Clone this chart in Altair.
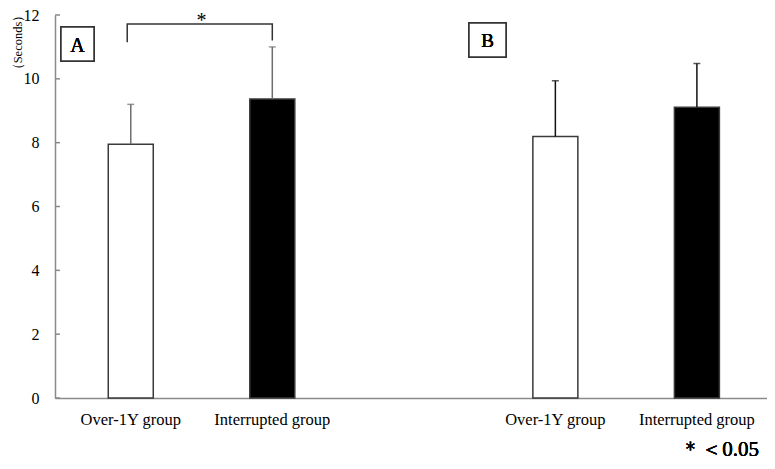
import altair as alt
import pandas as pd

# ---- data ----
groups = ["Over-1Y group", "Interrupted group", "Over-1Y group", "Interrupted group"]
panels = ["A", "A", "B", "B"]
slots = [0.5, 1.5, 3.5, 4.5]
means = [7.95, 9.37, 8.19, 9.11]
sds = [1.25, 1.63, 1.75, 1.37]
fills = ["#ffffff", "#000000", "#ffffff", "#000000"]
err_colors = ["#6e6e6e", "#6e6e6e", "#111111", "#111111"]
y_ticks = [0, 2, 4, 6, 8, 10, 12]
panel_labels = ["A", "B"]
sig_text = "*"
note_text = "＊＜0.05"
y_title = "（Seconds）"

df = pd.DataFrame({"group": groups, "panel": panels, "slot": slots,
                   "mean": means, "sd": sds, "fill": fills, "ecol": err_colors})
df["top"] = df["mean"] + df["sd"]

# significance bracket between first two bars (panel A)
bx_left = slots[0] - 0.025
bx_right = slots[1]
b_top = 11.72
bracket = pd.DataFrame({"x": [bx_left, bx_left, bx_right, bx_right],
                        "y": [11.15, b_top, b_top, 11.2],
                        "o": [0, 1, 2, 3]})
sig = pd.DataFrame({"x": [(slots[0] + slots[1]) / 2], "y": [b_top], "t": [sig_text]})
ticks_df = pd.DataFrame({"v": y_ticks})

FONT = "Liberation Serif"
W, H = 712, 383
xs = alt.Scale(domain=[0, 4.96], nice=False, zero=False)
ys = alt.Scale(domain=[0, 12], nice=False)

base = alt.Chart(df)

bars = base.mark_bar(size=45, stroke="#3a3a3a", strokeWidth=1.5).encode(
    x=alt.X("slot:Q", scale=xs,
            axis=alt.Axis(labels=False, ticks=False, title=None, grid=False,
                          domainColor="#8a8a8a", domainWidth=1.5)),
    y=alt.Y("mean:Q", scale=ys,
            axis=alt.Axis(values=y_ticks, ticks=False, grid=False, labelPadding=16,
                          labelFont=FONT, labelFontSize=16, labelColor="#000",
                          labelFontWeight="normal",
                          domainColor="#8a8a8a", domainWidth=1.5,
                          title=y_title, titleAngle=270, titleX=-38, titleY=27,
                          titleAlign="center", titleBaseline="middle",
                          titleFont=FONT, titleFontSize=12.5, titleFontWeight="normal",
                          titleColor="#000")),
    fill=alt.Fill("fill:N", scale=None),
)

err = base.mark_rule(strokeWidth=1.5).encode(
    x=alt.X("slot:Q", scale=xs), y=alt.Y("mean:Q", scale=ys), y2="top:Q",
    color=alt.Color("ecol:N", scale=None))
caps = base.mark_tick(orient="horizontal", size=7, thickness=1.5).encode(
    x=alt.X("slot:Q", scale=xs), y=alt.Y("top:Q", scale=ys),
    color=alt.Color("ecol:N", scale=None))

cat_labels = base.mark_text(font=FONT, fontSize=16.5, fontWeight="normal",
                            baseline="alphabetic", align="center", yOffset=27,
                            color="#000").encode(
    x=alt.X("slot:Q", scale=xs), y=alt.datum(0, scale=ys), text="group:N")

yticks = alt.Chart(ticks_df).mark_rule(color="#8a8a8a", strokeWidth=1.5).encode(
    x=alt.value(0), x2=alt.value(5), y=alt.Y("v:Q", scale=ys))

br = alt.Chart(bracket).mark_line(color="#333", strokeWidth=1.5).encode(
    x=alt.X("x:Q", scale=xs), y=alt.Y("y:Q", scale=ys), order="o:Q")
star = alt.Chart(sig).mark_text(font=FONT, fontSize=20, fontWeight="normal",
                                baseline="alphabetic", dy=3, color="#000").encode(
    x=alt.X("x:Q", scale=xs), y=alt.Y("y:Q", scale=ys), text="t:N")

# panel boxes
boxA = alt.Chart(df).mark_rect(fill="white", stroke="#333", strokeWidth=1.5).encode(
    x=alt.value(6), x2=alt.value(39), y=alt.value(12), y2=alt.value(46))
boxB = alt.Chart(df).mark_rect(fill="white", stroke="#333", strokeWidth=1.5).encode(
    x=alt.value(414), x2=alt.value(451), y=alt.value(8), y2=alt.value(42))
txtA = alt.Chart(df).mark_text(font=FONT, fontSize=20, fontWeight="normal",
                               color="#000", baseline="alphabetic").encode(
    x=alt.value(22.5), y=alt.value(37), text=alt.value(panel_labels[0]))
txtB = alt.Chart(df).mark_text(font=FONT, fontSize=19, fontWeight="normal",
                               color="#000", baseline="alphabetic").encode(
    x=alt.value(432.5), y=alt.value(32), text=alt.value(panel_labels[1]))

note = alt.Chart(df).mark_text(font=FONT, fontSize=21, fontWeight="normal",
                               color="#000", align="right",
                               baseline="alphabetic").encode(
    x=alt.value(704), y=alt.value(441), text=alt.value(note_text))

chart = alt.layer(bars, err, caps, yticks, cat_labels, br, star,
                  boxA, boxB, txtA, txtB, note).properties(
    width=W, height=H,
    autosize=alt.AutoSizeParams(type="none"),
    padding={"left": 47, "top": 7, "right": 0, "bottom": 63},
).configure_view(stroke=None)

chart.save("out.html", embed_options={"renderer": "svg", "actions": False})
